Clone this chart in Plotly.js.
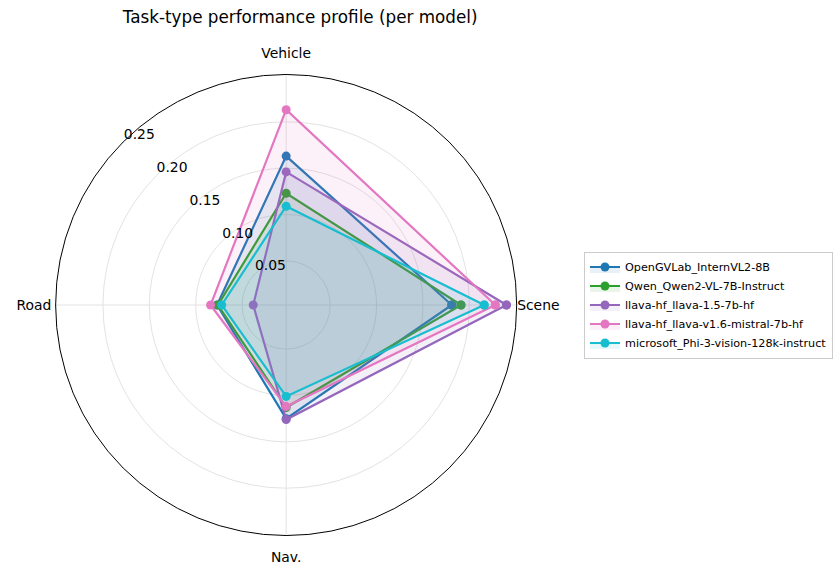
<!DOCTYPE html>
<html>
<head>
<meta charset="utf-8">
<script src="https://cdn.plot.ly/plotly-3.0.1.min.js"></script>
<style>
  html, body { margin: 0; padding: 0; background: #fff; }
  #chart { width: 833px; height: 564px; }
</style>
</head>
<body>
<div id="chart"></div>
<script>
// Task categories, counter-clockwise from the right-hand spoke
const categories = ['Scene', 'Vehicle', 'Road', 'Nav.'];

// Model names (legend order)
const models = [
  'OpenGVLab_InternVL2-8B',
  'Qwen_Qwen2-VL-7B-Instruct',
  'llava-hf_llava-1.5-7b-hf',
  'llava-hf_llava-v1.6-mistral-7b-hf',
  'microsoft_Phi-3-vision-128k-instruct'
];

// Scores per category: Scene, Vehicle, Road, Nav.
const internvl2    = [0.181, 0.163, 0.077, 0.125];
const qwen2vl      = [0.191, 0.123, 0.076, 0.113];
const llava15      = [0.240, 0.146, 0.038, 0.126];
const llavaMistral = [0.228, 0.213, 0.084, 0.112];
const phi3vision   = [0.216, 0.109, 0.072, 0.101];

// Radial tick values and their labels
const radialTicks = [0.05, 0.10, 0.15, 0.20, 0.25];
const radialTickLabels = ['0.05', '0.10', '0.15', '0.20', '0.25'];

const seriesValues = [internvl2, qwen2vl, llava15, llavaMistral, phi3vision];
const colors = ['#1f77b4', '#2ca02c', '#9467bd', '#e377c2', '#17becf'];
const fills = [
  'rgba(31,119,180,0.1)', 'rgba(44,160,44,0.1)', 'rgba(148,103,189,0.1)',
  'rgba(227,119,194,0.1)', 'rgba(23,190,207,0.1)'
];

const W = 833, H = 564;
// Plot circle: centre (from left / from bottom) and radius in pixels
const CX = 286.5, CY = 259, RADIUS = 230.8;
// Outer frame used to hold the category labels (text baseline nudge included)
const LABEL_FRAME = 257, LABEL_RADIUS = 252.5, LABEL_DY = -1.5;
// Radial range of the plot circle
const R_MIN = 0.0025, R_MAX = 0.251;

// Spoke angles in degrees, one per category
const spokeAngles = categories.map((_, i) => i * 360 / categories.length);

const FONT = 'DejaVu Sans, sans-serif';

const traces = seriesValues.map((vals, i) => ({
  type: 'scatterpolar',
  name: models[i],
  r: vals.concat([vals[0]]),
  theta: spokeAngles.concat([spokeAngles[0]]),
  mode: 'lines+markers',
  line: { color: colors[i], width: 2.2 },
  marker: { color: colors[i], size: 9 },
  fill: 'toself',
  fillcolor: fills[i],
  hoverinfo: 'skip'
}));

// Radial value labels along the 135 degree ray
traces.push({
  type: 'scatterpolar',
  r: radialTicks,
  theta: radialTicks.map(() => 135),
  mode: 'text',
  text: radialTickLabels,
  textposition: 'top right',
  textfont: { family: FONT, size: 13.9, color: '#000' },
  marker: { size: 1 },
  showlegend: false,
  hoverinfo: 'skip',
  cliponaxis: false
});

// Category labels, centred on each spoke just beyond the outer ring
traces.push({
  type: 'scatterpolar',
  subplot: 'polar2',
  r: categories.map(() => LABEL_RADIUS / LABEL_FRAME),
  theta: spokeAngles,
  mode: 'text',
  text: categories,
  textposition: 'middle center',
  textfont: { family: FONT, size: 13.9, color: '#000' },
  marker: { size: 1 },
  showlegend: false,
  hoverinfo: 'skip',
  cliponaxis: false
});

const hiddenAxis = {
  showline: false, showgrid: false, showticklabels: false, ticks: ''
};

const labelCY = CY + LABEL_DY;

const layout = {
  width: W,
  height: H,
  margin: { l: 0, r: 0, t: 0, b: 0 },
  paper_bgcolor: '#fff',
  font: { family: FONT, color: '#000' },
  title: {
    text: 'Task-type performance profile (per model)',
    font: { family: FONT, size: 16.8, color: '#000' },
    x: 300.5 / W, xref: 'paper', xanchor: 'center',
    y: 1 - 17 / H, yref: 'container', yanchor: 'middle'
  },
  polar: {
    domain: {
      x: [(CX - RADIUS) / W, (CX + RADIUS) / W],
      y: [(CY - RADIUS) / H, (CY + RADIUS) / H]
    },
    bgcolor: '#fff',
    radialaxis: {
      range: [R_MIN, R_MAX],
      tickmode: 'array',
      tickvals: radialTicks,
      showticklabels: false,
      ticks: '',
      showline: false,
      gridcolor: '#e3e3e3',
      gridwidth: 1
    },
    angularaxis: {
      thetaunit: 'degrees',
      rotation: 0,
      direction: 'counterclockwise',
      tickmode: 'array',
      tickvals: spokeAngles,
      showticklabels: false,
      ticks: '',
      showline: true,
      linecolor: '#000',
      linewidth: 1,
      gridcolor: '#e3e3e3',
      gridwidth: 1
    }
  },
  polar2: {
    domain: {
      x: [(CX - LABEL_FRAME) / W, (CX + LABEL_FRAME) / W],
      y: [(labelCY - LABEL_FRAME) / H, (labelCY + LABEL_FRAME) / H]
    },
    bgcolor: 'rgba(0,0,0,0)',
    radialaxis: Object.assign({ range: [0, 1] }, hiddenAxis),
    angularaxis: Object.assign({
      thetaunit: 'degrees', rotation: 0, direction: 'counterclockwise'
    }, hiddenAxis)
  },
  showlegend: true,
  legend: {
    x: 585 / W, xanchor: 'left',
    y: 1 - 305 / H, yanchor: 'middle',
    bgcolor: '#fff',
    bordercolor: '#cccccc',
    borderwidth: 1,
    font: { family: FONT, size: 11.2, color: '#000' },
    itemwidth: 30
  }
};

Plotly.newPlot('chart', traces, layout, { displayModeBar: false, staticPlot: true });
</script>
</body>
</html>
